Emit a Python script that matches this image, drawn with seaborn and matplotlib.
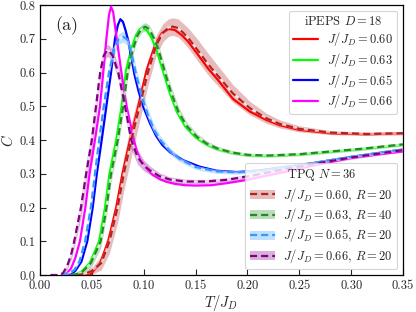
import numpy as np
import pandas as pd
import matplotlib
matplotlib.use("Agg")
import matplotlib.pyplot as plt
from matplotlib.lines import Line2D
from matplotlib.patches import Patch
import seaborn as sns

# ---------------- data ----------------
# iPEPS D=18 (solid lines)
T_ip060 = [0.035, 0.048, 0.058, 0.0658, 0.0735, 0.0795, 0.0868, 0.0948, 0.1028, 0.111, 0.1173, 0.124,
           0.130, 0.1366, 0.143, 0.153, 0.162, 0.171, 0.186, 0.2025, 0.2185, 0.231, 0.250, 0.280, 0.315, 0.350]
C_ip060 = [0.000, 0.000, 0.035, 0.100, 0.200, 0.300, 0.400, 0.500, 0.607, 0.681, 0.716, 0.729,
           0.726, 0.711, 0.691, 0.650, 0.612, 0.580, 0.522, 0.484, 0.459, 0.444, 0.430, 0.420, 0.417, 0.420]

T_ip063 = [0.030, 0.035, 0.040, 0.048, 0.0570, 0.0627, 0.0670, 0.0735, 0.0787, 0.0830, 0.0880, 0.0925,
           0.0960, 0.0985, 0.1030, 0.1080, 0.1125, 0.1190, 0.1250, 0.1320, 0.1400, 0.1500, 0.1600, 0.1700,
           0.1850, 0.2000, 0.2200, 0.2500, 0.2800, 0.3100, 0.3500]
C_ip063 = [0.000, 0.003, 0.010, 0.035, 0.100, 0.200, 0.300, 0.400, 0.500, 0.607, 0.670, 0.710,
           0.728, 0.733, 0.725, 0.700, 0.665, 0.600, 0.540, 0.483, 0.440, 0.408, 0.388, 0.374,
           0.362, 0.355, 0.353, 0.357, 0.365, 0.373, 0.386]

T_ip065 = [0.025, 0.030, 0.034, 0.040, 0.0456, 0.0508, 0.0548, 0.0595, 0.0640, 0.0685, 0.0723, 0.0750,
           0.0775, 0.0800, 0.0825, 0.0850, 0.0880, 0.0910, 0.0950, 0.1000, 0.1060, 0.1120, 0.1180, 0.1250,
           0.1380, 0.1540, 0.1700, 0.1900, 0.2120, 0.2310, 0.2600, 0.3000, 0.3500]
C_ip065 = [0.000, 0.003, 0.012, 0.040, 0.100, 0.200, 0.300, 0.400, 0.500, 0.600, 0.700, 0.740,
           0.758, 0.750, 0.725, 0.695, 0.645, 0.595, 0.545, 0.495, 0.450, 0.412, 0.385, 0.365,
           0.340, 0.321, 0.309, 0.305, 0.310, 0.318, 0.330, 0.350, 0.372]

T_ip066 = [0.020, 0.026, 0.030, 0.034, 0.0385, 0.0437, 0.0478, 0.0530, 0.0578, 0.0610, 0.0640, 0.0665,
           0.0685, 0.0705, 0.0740, 0.0785, 0.0835, 0.0905, 0.0930, 0.0965, 0.103, 0.109, 0.116, 0.122,
           0.130, 0.140, 0.150, 0.165, 0.180, 0.200, 0.220, 0.240, 0.260, 0.280, 0.300, 0.325, 0.350]
C_ip066 = [0.000, 0.005, 0.020, 0.050, 0.100, 0.200, 0.300, 0.400, 0.500, 0.600, 0.700, 0.770,
           0.795, 0.780, 0.700, 0.600, 0.500, 0.400, 0.370, 0.342, 0.315, 0.296, 0.283, 0.276,
           0.270, 0.266, 0.265, 0.266, 0.272, 0.282, 0.295, 0.308, 0.322, 0.335, 0.347, 0.357, 0.366]

# TPQ N=36 (dashed lines with error bands)
T_tq060 = [0.035, 0.043, 0.050, 0.059, 0.0670, 0.0748, 0.0808, 0.0880, 0.0960, 0.1040, 0.1120, 0.1185,
           0.1240, 0.1280, 0.1330, 0.1380, 0.1440, 0.1530, 0.1620, 0.1710, 0.1860, 0.2025, 0.2185, 0.2310,
           0.2500, 0.2800, 0.3150, 0.3500]
C_tq060 = [0.000, 0.003, 0.012, 0.035, 0.100, 0.200, 0.300, 0.400, 0.500, 0.600, 0.680, 0.718,
           0.733, 0.736, 0.732, 0.718, 0.698, 0.662, 0.625, 0.592, 0.538, 0.494, 0.464, 0.448,
           0.433, 0.422, 0.418, 0.420]
E_tq060 = [0.002, 0.005, 0.010, 0.020, 0.035, 0.045, 0.050, 0.050, 0.045, 0.038, 0.030, 0.027,
           0.026, 0.026, 0.027, 0.028, 0.030, 0.032, 0.032, 0.030, 0.026, 0.020, 0.015, 0.012,
           0.009, 0.006, 0.005, 0.005]

T_tq063 = [0.030, 0.036, 0.041, 0.049, 0.0585, 0.0642, 0.0685, 0.0750, 0.0802, 0.0845, 0.0895, 0.0940,
           0.0980, 0.1015, 0.1055, 0.1100, 0.1145, 0.1205, 0.1265, 0.1335, 0.1415, 0.1515, 0.1610, 0.1710,
           0.1850, 0.2000, 0.2200, 0.2500, 0.2800, 0.3100, 0.3500]
C_tq063 = [0.000, 0.003, 0.010, 0.035, 0.100, 0.200, 0.300, 0.400, 0.500, 0.600, 0.668, 0.710,
           0.730, 0.736, 0.728, 0.700, 0.665, 0.600, 0.540, 0.483, 0.441, 0.409, 0.389, 0.375,
           0.363, 0.356, 0.354, 0.358, 0.366, 0.374, 0.387]
E_tq063 = [0.002, 0.004, 0.008, 0.015, 0.020, 0.025, 0.025, 0.025, 0.022, 0.018, 0.015, 0.012,
           0.012, 0.012, 0.012, 0.013, 0.015, 0.018, 0.018, 0.016, 0.012, 0.010, 0.008, 0.007,
           0.006, 0.005, 0.005, 0.005, 0.005, 0.005, 0.005]

T_tq065 = [0.020, 0.028, 0.033, 0.038, 0.0435, 0.049, 0.053, 0.057, 0.0615, 0.0665, 0.0715, 0.0760,
           0.0800, 0.0840, 0.0880, 0.0930, 0.0980, 0.1040, 0.1100, 0.1160, 0.1250, 0.1350, 0.1500, 0.1700,
           0.1900, 0.2100, 0.2300, 0.2600, 0.3000, 0.3500]
C_tq065 = [0.000, 0.005, 0.015, 0.040, 0.100, 0.200, 0.300, 0.400, 0.500, 0.600, 0.670, 0.700,
           0.706, 0.698, 0.660, 0.590, 0.530, 0.475, 0.430, 0.400, 0.368, 0.343, 0.320, 0.307,
           0.304, 0.308, 0.316, 0.330, 0.350, 0.372]
E_tq065 = [0.001, 0.003, 0.006, 0.012, 0.020, 0.025, 0.028, 0.028, 0.025, 0.022, 0.018, 0.016,
           0.016, 0.016, 0.018, 0.020, 0.020, 0.018, 0.015, 0.012, 0.010, 0.008, 0.007, 0.006,
           0.005, 0.005, 0.005, 0.005, 0.005, 0.005]

T_tq066 = [0.010, 0.018, 0.022, 0.026, 0.030, 0.033, 0.0395, 0.0445, 0.0500, 0.0540, 0.0580, 0.0615,
           0.0645, 0.0670, 0.0700, 0.0755, 0.0820, 0.0880, 0.0940, 0.1000, 0.1060, 0.1150, 0.1250, 0.1400,
           0.1600, 0.1800, 0.2000, 0.2300, 0.2600, 0.3000, 0.3500]
C_tq066 = [0.000, 0.000, 0.005, 0.025, 0.060, 0.100, 0.200, 0.300, 0.400, 0.500, 0.600, 0.650,
           0.665, 0.662, 0.650, 0.600, 0.500, 0.400, 0.350, 0.325, 0.310, 0.293, 0.283, 0.277,
           0.277, 0.282, 0.292, 0.310, 0.327, 0.348, 0.370]
E_tq066 = [0.000, 0.001, 0.004, 0.010, 0.015, 0.020, 0.030, 0.035, 0.035, 0.030, 0.025, 0.020,
           0.018, 0.018, 0.018, 0.022, 0.028, 0.028, 0.022, 0.016, 0.013, 0.010, 0.008, 0.007,
           0.006, 0.006, 0.006, 0.005, 0.005, 0.005, 0.005]

ip_labels = [r"$J/J_D=0.60$", r"$J/J_D=0.63$", r"$J/J_D=0.65$", r"$J/J_D=0.66$"]
tq_labels = [r"$J/J_D=0.60$, $R=20$", r"$J/J_D=0.63$, $R=40$",
             r"$J/J_D=0.65$, $R=20$", r"$J/J_D=0.66$, $R=20$"]
x_ticks = [0.00, 0.05, 0.10, 0.15, 0.20, 0.25, 0.30, 0.35]
y_ticks = [0.0, 0.1, 0.2, 0.3, 0.4, 0.5, 0.6, 0.7, 0.8]

# ---------------- style ----------------
sns.set_style("ticks")
plt.rcParams.update({
    "font.family": "serif",
    "font.serif": ["cmr10", "DejaVu Serif"],
    "mathtext.fontset": "cm",
    "axes.formatter.use_mathtext": True,
    "axes.unicode_minus": False,
})

ip_colors = ["#ff0000", "#00ff00", "#0000ff", "#ff00ff"]
tq_colors = ["#b22222", "#228b22", "#3399ff", "#800080"]

ipeps = [(T_ip060, C_ip060), (T_ip063, C_ip063), (T_ip065, C_ip065), (T_ip066, C_ip066)]
tpq = [(T_tq060, C_tq060, E_tq060), (T_tq063, C_tq063, E_tq063),
       (T_tq065, C_tq065, E_tq065), (T_tq066, C_tq066, E_tq066)]

fig = plt.figure(figsize=(4.16, 3.12), dpi=100)
ax = fig.add_axes([40 / 416, 1 - 275 / 312, 363 / 416, 270 / 312])

# bands
for (T, C, E), col in zip(tpq, tq_colors):
    T = np.array(T); C = np.array(C); E = np.array(E)
    ax.fill_between(T, C - E, C + E, color=col, alpha=0.3, lw=0, zorder=1)

# iPEPS solid lines
for (T, C), col in zip(ipeps, ip_colors):
    df = pd.DataFrame({"T": T, "C": C})
    sns.lineplot(data=df, x="T", y="C", ax=ax, color=col, lw=1.6, sort=False,
                 estimator=None, zorder=3)

# TPQ dashed lines (light gaps)
for (T, C, E), col in zip(tpq, tq_colors):
    df = pd.DataFrame({"T": T, "C": C})
    sns.lineplot(data=df, x="T", y="C", ax=ax, color="white", alpha=0.6, lw=1.6,
                 sort=False, estimator=None, zorder=4)
    sns.lineplot(data=df, x="T", y="C", ax=ax, color=col, lw=1.6, sort=False,
                 estimator=None, zorder=5, dashes=False, linestyle=(0, (3.2, 1.8)))

ax.set_xlim(0, 0.35)
ax.set_ylim(0, 0.8)
ax.set_xticks(x_ticks)
ax.set_yticks(y_ticks)
ax.set_xticklabels([f"{v:.2f}" for v in x_ticks])
ax.set_yticklabels([f"{v:.1f}" for v in y_ticks])
ax.tick_params(direction="in", length=4, width=0.8, labelsize=9, top=False, right=False)
for s in ax.spines.values():
    s.set_linewidth(0.9)
    s.set_color("black")
ax.set_xlabel(r"$T/J_D$", fontsize=10.5, labelpad=1)
ax.set_ylabel(r"$C$", fontsize=10.5, labelpad=2)

ax.text(0.042, 0.96, "(a)", transform=ax.transAxes, fontsize=13, va="top", ha="left")

# legends
common = dict(fontsize=9, title_fontsize=9, handlelength=2.0, labelspacing=0.2,
              borderpad=0.35, handletextpad=0.7, frameon=True, fancybox=True,
              framealpha=0.8, borderaxespad=0.45)
h1 = [Line2D([], [], color=c, lw=1.6) for c in ip_colors]
leg1 = ax.legend(h1, ip_labels, title=r"iPEPS $D=18$", loc="upper right", **common)
leg1.get_frame().set_edgecolor("#cccccc")
leg1.get_frame().set_linewidth(0.8)
ax.add_artist(leg1)

h2 = [(Patch(facecolor=c, alpha=0.3, lw=0),
       Line2D([], [], color=c, lw=1.6, linestyle=(0, (3.2, 1.8)))) for c in tq_colors]
leg2 = ax.legend(h2, tq_labels, title=r"TPQ $N=36$", loc="lower right", **common)
leg2.get_frame().set_edgecolor("#cccccc")
leg2.get_frame().set_linewidth(0.8)

fig.savefig("out.png", dpi=100)
